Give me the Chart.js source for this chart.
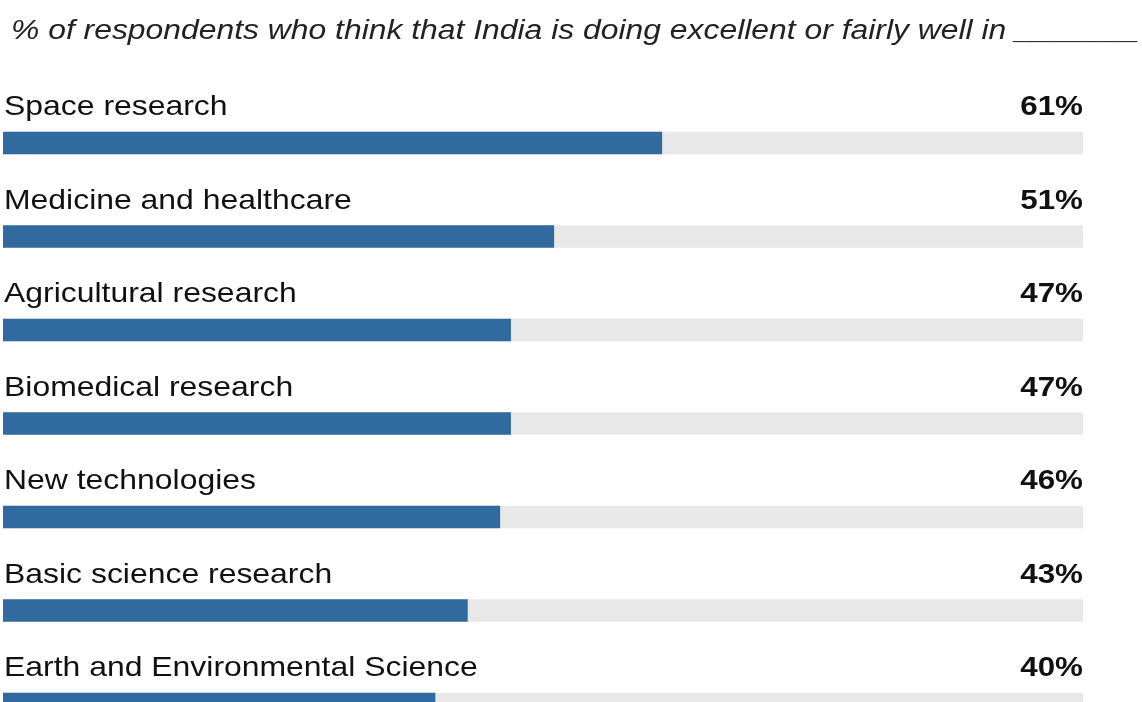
<!DOCTYPE html>
<html>
<head>
<meta charset="utf-8">
<script src="https://cdn.jsdelivr.net/npm/chart.js@4.4.1/dist/chart.umd.min.js"></script>
<style>
  html, body { margin: 0; padding: 0; background: #ffffff; }
  #frame { width: 1142px; height: 702px; overflow: hidden; position: relative; }
  canvas { display: block; }
</style>
</head>
<body>
<div id="frame"><canvas id="chart" width="1142" height="760"></canvas></div>
<script>
// Survey topics and share of respondents rating India's performance well
const categories = [
  'Space research',
  'Medicine and healthcare',
  'Agricultural research',
  'Biomedical research',
  'New technologies',
  'Basic science research',
  'Earth and Environmental Science'
];
const percentValues = [61, 51, 47, 47, 46, 43, 40];
const fullScale = [100, 100, 100, 100, 100, 100, 100];
const valueLabels = ['61%', '51%', '47%', '47%', '46%', '43%', '40%'];
const heading = '% of respondents who think that India is doing excellent or fairly well in _______';

const FONT = '"Liberation Sans", Arial, Helvetica, sans-serif';

// draw text with a horizontal widening factor
function stretchedText(ctx, text, x, y, align, stretch) {
  ctx.save();
  ctx.translate(x, y);
  ctx.scale(stretch, 1);
  ctx.textAlign = align;
  ctx.textBaseline = 'alphabetic';
  ctx.fillText(text, 0, 0);
  ctx.restore();
}

const rowLabels = {
  id: 'rowLabels',
  afterDatasetsDraw(chart) {
    const { ctx, chartArea, scales } = chart;
    ctx.save();
    // heading
    ctx.fillStyle = '#222222';
    ctx.font = 'italic 27px ' + FONT;
    stretchedText(ctx, heading, 11, 39, 'left', 1.18);
    // category names and values above each bar
    categories.forEach((name, i) => {
      const yTop = scales.y.getPixelForValue(i) - 11;
      const base = yTop - 17;
      ctx.fillStyle = '#111111';
      ctx.font = '28px ' + FONT;
      stretchedText(ctx, name, chartArea.left + 1, base, 'left', 1.14);
      ctx.font = 'bold 28px ' + FONT;
      stretchedText(ctx, valueLabels[i], chartArea.right, base, 'right', 1.12);
    });
    ctx.restore();
  }
};

new Chart(document.getElementById('chart'), {
  type: 'bar',
  data: {
    labels: categories,
    datasets: [
      {
        label: 'Share',
        data: percentValues,
        backgroundColor: '#316a9e',
        barThickness: 22,
        grouped: false,
        order: 0
      },
      {
        label: 'Track',
        data: fullScale,
        backgroundColor: '#e8e8e8',
        barThickness: 22,
        grouped: false,
        order: 1
      }
    ]
  },
  options: {
    indexAxis: 'y',
    responsive: false,
    animation: false,
    devicePixelRatio: 1,
    layout: { padding: { left: 3, right: 59, top: 96.25, bottom: 9.25 } },
    scales: {
      x: { min: 0, max: 100, display: false },
      y: { display: false }
    },
    plugins: {
      legend: { display: false },
      tooltip: { enabled: false },
      title: { display: false }
    }
  },
  plugins: [rowLabels]
});
</script>
</body>
</html>
